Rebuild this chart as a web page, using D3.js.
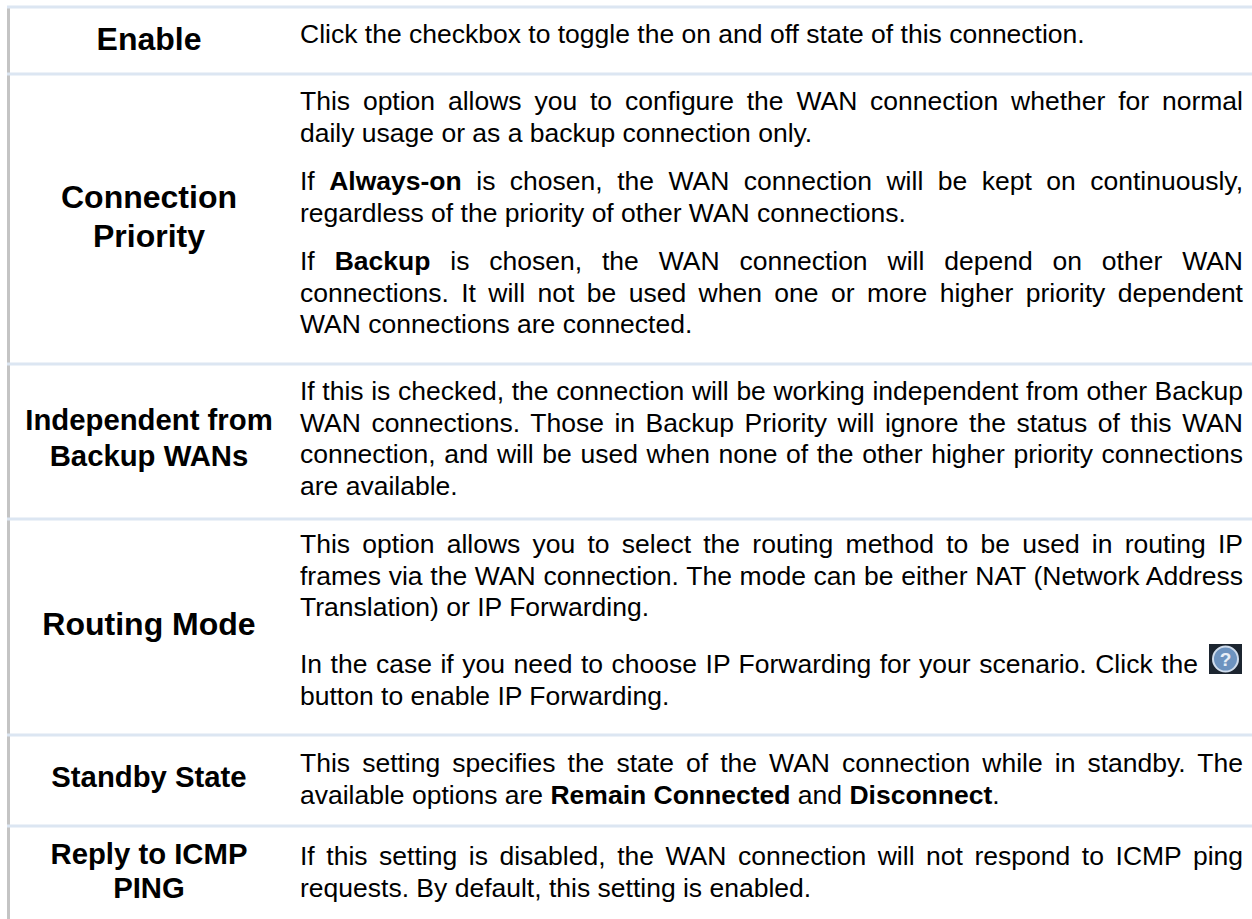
<!DOCTYPE html>
<html>
<head>
<meta charset="utf-8">
<script src="https://cdn.jsdelivr.net/npm/d3@7"></script>
<style>
html, body { margin: 0; padding: 0; background: #fff; }
svg { display: block; }
text { font-family: "Liberation Sans", Arial, sans-serif; fill: #000; }
</style>
</head>
<body>
<div id="chart"></div>
<script>
// row labels, one array per line of the label
var rowTitles = [
  ["Enable"],
  ["Connection", "Priority"],
  ["Independent from", "Backup WANs"],
  ["Routing Mode"],
  ["Standby State"],
  ["Reply to ICMP", "PING"]
];

// description of each row: paragraphs > lines. **x** marks bold words
var rowTexts = [
  [["Click the checkbox to toggle the on and off state of this connection."]],
  [["This option allows you to configure the WAN connection whether for normal", "daily usage or as a backup connection only."],
   ["If **Always-on** is chosen, the WAN connection will be kept on continuously,", "regardless of the priority of other WAN connections."],
   ["If **Backup** is chosen, the WAN connection will depend on other WAN", "connections. It will not be used when one or more higher priority dependent", "WAN connections are connected."]],
  [["If this is checked, the connection will be working independent from other Backup", "WAN connections. Those in Backup Priority will ignore the status of this WAN", "connection, and will be used when none of the other higher priority connections", "are available."]],
  [["This option allows you to select the routing method to be used in routing IP", "frames via the WAN connection. The mode can be either NAT (Network Address", "Translation) or IP Forwarding."],
   ["In the case if you need to choose IP Forwarding for your scenario. Click the", "button to enable IP Forwarding."]],
  [["This setting specifies the state of the WAN connection while in standby. The", "available options are **Remain Connected** and **Disconnect**."]],
  [["If this setting is disabled, the WAN connection will not respond to ICMP ping", "requests. By default, this setting is enabled."]]
];

// layout
var width = 1252, height = 919;
var rowHeights = [67, 290, 155, 216, 91, 93];
var firstBase = [36, 36, 36, 34, 37, 39];   // rule to first text baseline
var paraExtra = [0, 16.6, 0, 25, 0, 0];
var titleSizes = [32, 32, 29.3, 32, 29.3, 29.3];
var titleBase = [43, 134, 66, 116, 52, 38];  // rule to first label baseline
var titleLead = [0, 38.5, 36, 0, 0, 34];
var lineH = 31.7;
var titleX = 149, textX = 300, textR = 1243, iconLineR = 1198;
var bodySize = 26.5;

var svg = d3.select("#chart").append("svg")
    .attr("width", width)
    .attr("height", height);

var rowTops = [7].concat(Array.from(d3.cumsum(rowHeights), function(d) { return d + 7; }));

// left rule
svg.append("line")
    .attr("x1", 8.5).attr("x2", 8.5)
    .attr("y1", 7).attr("y2", height)
    .attr("stroke", "#c4c4c4").attr("stroke-width", 3);

// row rules
svg.selectAll(".rule")
    .data(rowTops.slice(0, rowTexts.length))
    .enter().append("line")
    .attr("class", "rule")
    .attr("x1", 7).attr("x2", width)
    .attr("y1", function(d) { return d; })
    .attr("y2", function(d) { return d; })
    .attr("stroke", "#dce6f2").attr("stroke-width", 3);

// put one line in, bold where marked, stretch the spaces to the right edge
function addLine(str, y, right) {
  var t = svg.append("text").attr("x", textX).attr("y", y).style("font-size", bodySize + "px");
  str.split("**").forEach(function(part, i) {
    t.append("tspan").style("font-weight", i % 2 ? "bold" : "normal").text(part);
  });
  if (right) {
    var gaps = str.split(" ").length - 1;
    var free = right - textX - t.node().getComputedTextLength();
    t.style("word-spacing", (free / gaps) + "px");
  }
  return t;
}

rowTexts.forEach(function(paras, r) {
  var top = rowTops[r];

  rowTitles[r].forEach(function(s, i) {
    svg.append("text")
        .attr("x", titleX)
        .attr("y", top + titleBase[r] + i * titleLead[r])
        .attr("text-anchor", "middle")
        .style("font-size", titleSizes[r] + "px")
        .style("font-weight", "bold")
        .text(s);
  });

  var ty = top + firstBase[r];
  paras.forEach(function(p) {
    p.forEach(function(str, i) {
      var right = i < p.length - 1 ? textR : null;
      // the line with the help icon stops short of it
      if (str.slice(-9) == "Click the") right = iconLineR;
      addLine(str, ty, right);
      ty += lineH;
    });
    ty += paraExtra[r];
  });
});

// help icon at the end of the routing mode line
var icon = svg.append("g").attr("transform", "translate(1209,644)");
icon.append("rect").attr("width", 33).attr("height", 30).attr("fill", "#1c2530");
icon.append("circle").attr("cx", 16.5).attr("cy", 15).attr("r", 12.5)
    .attr("fill", "#6d93bf").attr("stroke", "#cfdcec").attr("stroke-width", 2);
icon.append("text").attr("x", 16.5).attr("y", 21.5).attr("text-anchor", "middle")
    .style("font-size", "19px").style("font-weight", "bold").style("fill", "#e8eef6").text("?");

</script>
</body>
</html>
